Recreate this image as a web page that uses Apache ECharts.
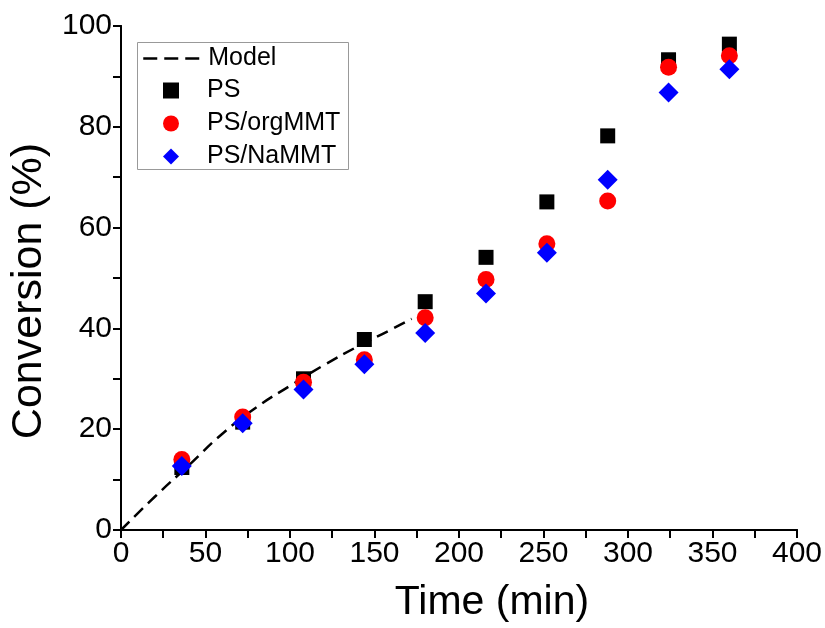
<!DOCTYPE html>
<html>
<head>
<meta charset="utf-8">
<script src="https://cdn.jsdelivr.net/npm/echarts@6/dist/echarts.min.js"></script>
<style>
html,body{margin:0;padding:0;background:#fff;}
#chart{width:825px;height:628px;}
</style>
</head>
<body>
<div id="chart"></div>
<script>
// ---- data ----
const timeMin = [36, 72, 108, 144, 180, 216, 252, 288, 324, 360];
const psValues = [12.4, 21.4, 30.0, 37.8, 45.3, 54.1, 65.1, 78.2, 93.3, 96.4];
const orgMMTValues = [14.0, 22.4, 29.3, 33.8, 42.1, 49.7, 56.8, 65.3, 91.8, 94.1];
const naMMTValues = [12.7, 21.2, 27.9, 32.9, 39.1, 46.9, 55.0, 69.5, 86.8, 91.4];
const modelTime = [0, 20, 40, 60, 80, 100, 120, 140, 160, 172];
const modelValues = [0, 6.6, 12.8, 19.1, 24.3, 28.6, 32.7, 36.4, 39.8, 41.9];
const seriesNames = ['Model', 'PS', 'PS/orgMMT', 'PS/NaMMT'];
const xTicks = {min: 0, max: 400, interval: 50};
const yTicks = {min: 0, max: 100, interval: 20};

const FONT = '"Liberation Sans", Arial, sans-serif';
const zip = (a, b) => a.map((v, i) => [v, b[i]]);

const axisLine = {show: true, lineStyle: {color: '#000', width: 2}};
function mkX(pos, show) {
  return {
    type: 'value', position: pos, min: xTicks.min, max: xTicks.max, interval: xTicks.interval,
    axisLine: axisLine,
    axisTick: {show: true, inside: !show, length: 8, lineStyle: {color: '#000', width: 2}},
    minorTick: {show: true, splitNumber: 2, length: show ? 5 : 8, lineStyle: {color: '#000', width: 2}},
    splitLine: {show: false}, minorSplitLine: {show: false},
    axisLabel: {show: show, color: '#000', fontSize: 30, fontFamily: FONT, margin: 9},
    name: show ? 'Time (min)' : '', nameLocation: 'middle', nameGap: 52,
    nameTextStyle: {color: '#000', fontSize: 41, fontFamily: FONT, padding: [0, 0, 0, 66]}
  };
}
function mkY(pos, show) {
  return {
    type: 'value', position: pos, min: yTicks.min, max: yTicks.max, interval: yTicks.interval,
    axisLine: axisLine,
    axisTick: {show: true, inside: !show, length: 8, lineStyle: {color: '#000', width: 2}},
    minorTick: {show: true, splitNumber: 2, length: show ? 5 : 8, lineStyle: {color: '#000', width: 2}},
    splitLine: {show: false}, minorSplitLine: {show: false},
    axisLabel: {show: show, color: '#000', fontSize: 30, fontFamily: FONT, margin: 9},
    name: show ? 'Conversion (%)' : '', nameLocation: 'middle', nameGap: 70,
    nameTextStyle: {color: '#000', fontSize: 43, fontFamily: FONT, padding: [0, 26, 0, 0]}
  };
}

const legendText = {color: '#000', fontSize: 25, fontFamily: FONT};

const chart = echarts.init(document.getElementById('chart'), null, {renderer: 'canvas'});
chart.setOption({
  animation: false,
  backgroundColor: '#fff',
  grid: {left: 120, right: 28, top: 26, bottom: 97, containLabel: false},
  xAxis: [mkX('bottom', true), mkX('top', false)],
  yAxis: [mkY('left', true), mkY('right', false)],
  graphic: [{
    type: 'rect', left: 137, top: 42, z: 3, silent: true,
    shape: {width: 211, height: 127},
    style: {fill: '#fff', stroke: '#999', lineWidth: 1}
  }],
  legend: [
    {
      orient: 'vertical', left: 142, top: 46, padding: 0, itemGap: 8,
      itemWidth: 56, itemHeight: 16, z: 5,
      data: [seriesNames[0]],
      itemStyle: {color: 'rgba(0,0,0,0)', borderColor: 'rgba(0,0,0,0)', borderWidth: 0, opacity: 0},
      lineStyle: {color: '#000', width: 2.5, type: [14, 7]},
      textStyle: Object.assign({padding: [0, 0, 0, 4]}, legendText)
    },
    {
      orient: 'vertical', left: 163, top: 78, padding: 0, itemGap: 8,
      itemWidth: 16, itemHeight: 16, z: 5,
      data: seriesNames.slice(1),
      textStyle: Object.assign({padding: [0, 0, 0, 23]}, legendText)
    }
  ],
  series: [
    {
      name: seriesNames[0], type: 'line', data: zip(modelTime, modelValues),
      smooth: true, showSymbol: false, symbol: 'none',
      lineStyle: {color: '#000', width: 2.5, type: [12, 7]},
      itemStyle: {color: '#000'}, z: 1
    },
    {
      name: seriesNames[1], type: 'scatter', data: zip(timeMin, psValues),
      symbol: 'rect', symbolSize: 15, itemStyle: {color: '#000', opacity: 1}, z: 2
    },
    {
      name: seriesNames[2], type: 'scatter', data: zip(timeMin, orgMMTValues),
      symbol: 'circle', symbolSize: 17, itemStyle: {color: '#ff0000', opacity: 1}, z: 3
    },
    {
      name: seriesNames[3], type: 'scatter', data: zip(timeMin, naMMTValues),
      symbol: 'diamond', symbolSize: 20, itemStyle: {color: '#0000ff', opacity: 1}, z: 4
    }
  ]
});
</script>
</body>
</html>
